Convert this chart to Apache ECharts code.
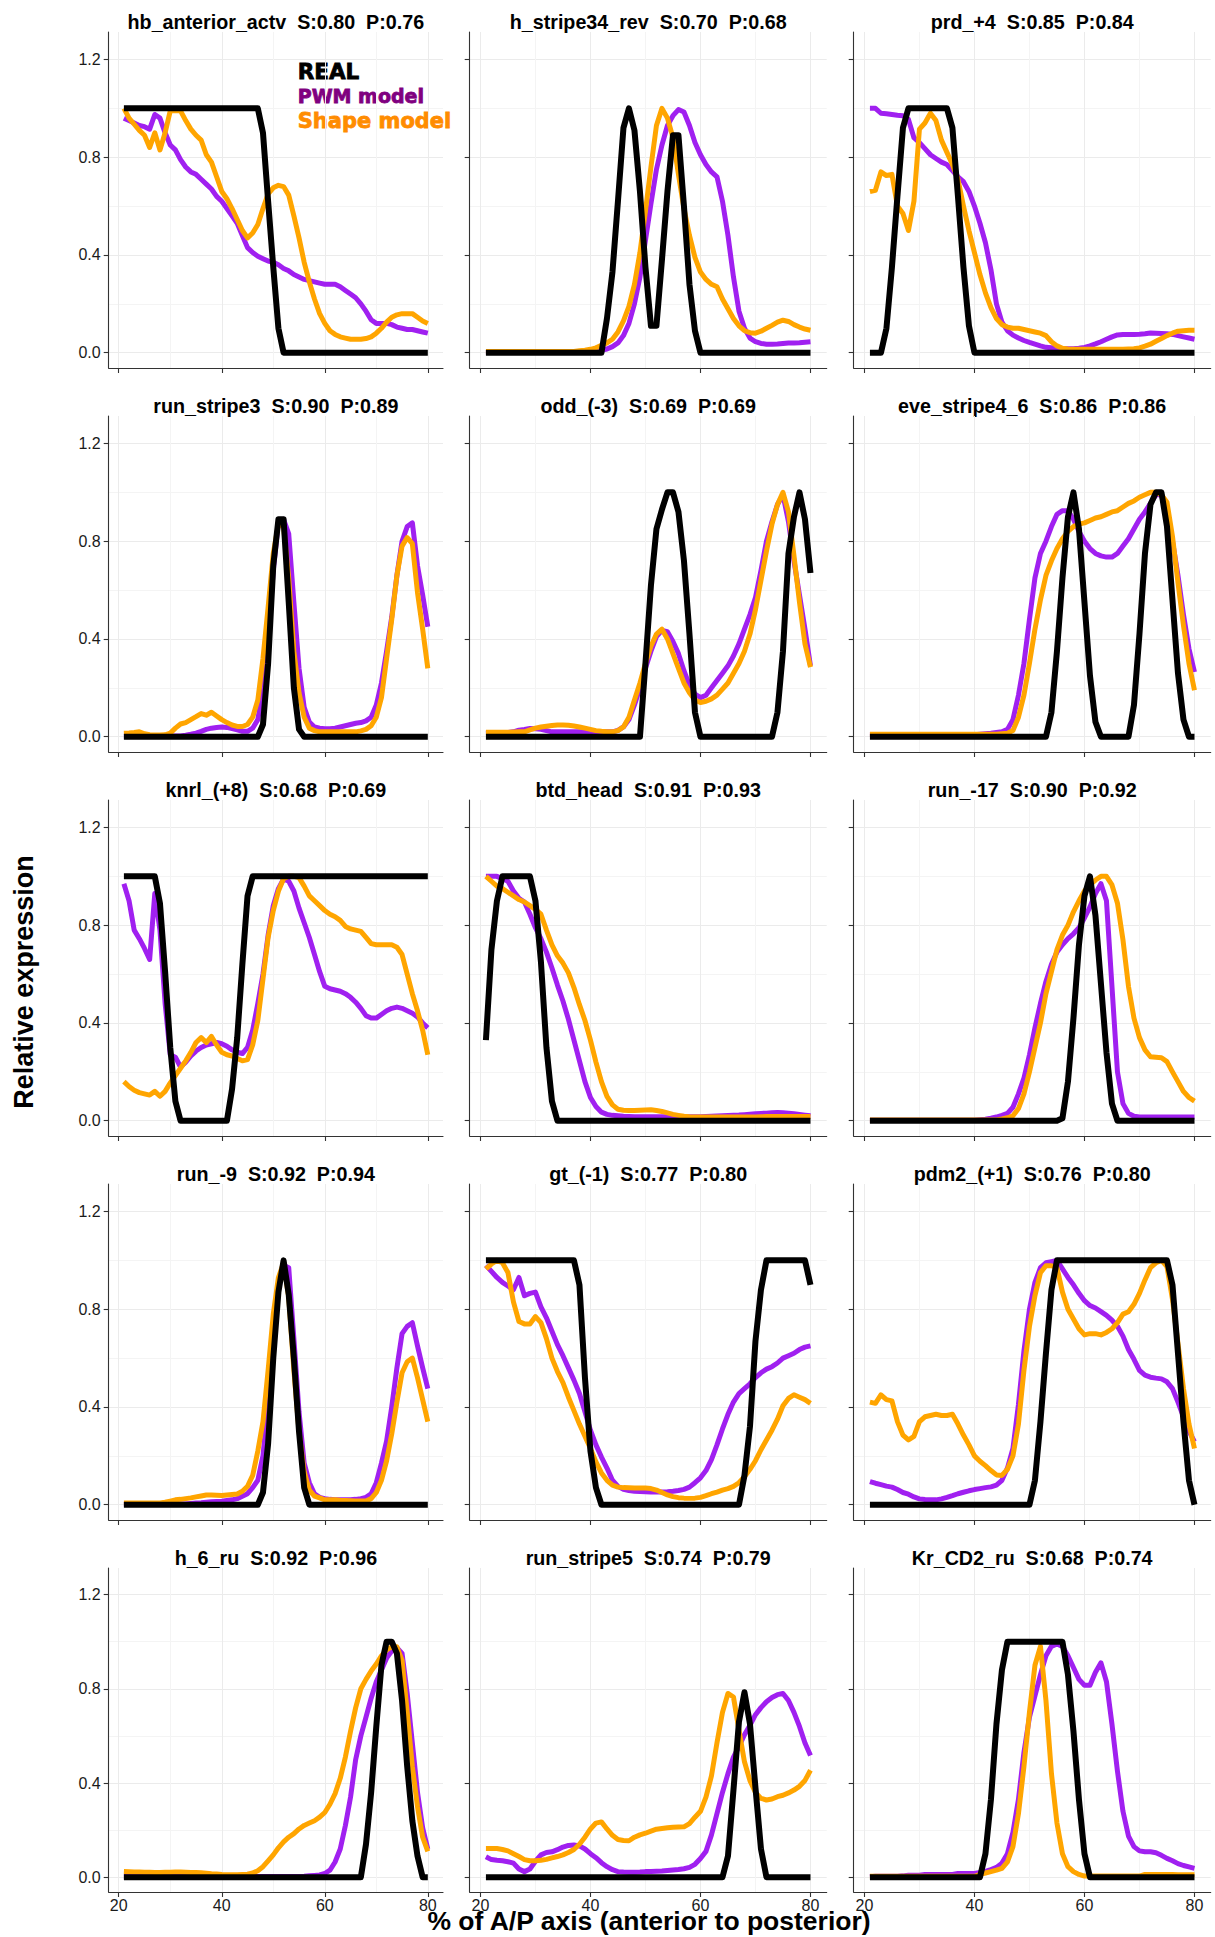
<!DOCTYPE html>
<html><head><meta charset="utf-8">
<script src="https://cdn.jsdelivr.net/npm/echarts@6.0.0/dist/echarts.min.js"></script>
<style>html,body{margin:0;padding:0;background:#fff}#chart{width:1215px;height:1937px}#chart svg text{white-space:pre}</style>
</head><body><div id="chart"></div>
<script>
// ---------------- data ----------------
const xs = [21,22,23,24,25,26,27,28,29,30, 31,32,33,34,35,36,37,38,39,40, 41,42,43,44,45,46,47,48,49,50, 51,52,53,54,55,56,57,58,59,60, 61,62,63,64,65,66,67,68,69,70, 71,72,73,74,75,76,77,78,79,80];
const xTicks = [20, 40, 60, 80];
const xMinorTicks = [30, 50, 70];
const yTicks = [0, 0.4, 0.8, 1.2];
const yMinorTicks = [0.2, 0.6, 1.0];
const titles = ['hb_anterior_actv  S:0.80  P:0.76','h_stripe34_rev  S:0.70  P:0.68','prd_+4  S:0.85  P:0.84',
  'run_stripe3  S:0.90  P:0.89','odd_(-3)  S:0.69  P:0.69','eve_stripe4_6  S:0.86  P:0.86',
  'knrl_(+8)  S:0.68  P:0.69','btd_head  S:0.91  P:0.93','run_-17  S:0.90  P:0.92',
  'run_-9  S:0.92  P:0.94','gt_(-1)  S:0.77  P:0.80','pdm2_(+1)  S:0.76  P:0.80',
  'h_6_ru  S:0.92  P:0.96','run_stripe5  S:0.74  P:0.79','Kr_CD2_ru  S:0.68  P:0.74'];
const legendLabels = ['REAL', 'PWM model', 'Shape model'];
const xTitle = '% of A/P axis (anterior to posterior)';
const yTitle = 'Relative expression';

const hb_real = [1,1,1,1,1,1,1,1,1,1, 1,1,1,1,1,1,1,1,1,1, 1,1,1,1,1,1,1,0.9,0.62,0.35, 0.1,0,0,0,0,0,0,0,0,0, 0,0,0,0,0,0,0,0,0,0, 0,0,0,0,0,0,0,0,0,0];
const hb_pwm = [0.96,0.95,0.94,0.93,0.925,0.915,0.975,0.96,0.9,0.85, 0.83,0.79,0.76,0.74,0.73,0.71,0.69,0.67,0.64,0.62, 0.59,0.56,0.53,0.48,0.43,0.41,0.395,0.385,0.375,0.37, 0.36,0.345,0.335,0.32,0.31,0.3,0.295,0.29,0.285,0.28, 0.28,0.28,0.27,0.255,0.24,0.225,0.2,0.17,0.135,0.12, 0.12,0.12,0.115,0.105,0.1,0.095,0.095,0.09,0.085,0.08];
const hb_shape = [1,0.96,0.935,0.91,0.89,0.84,0.9,0.83,0.9,0.99, 0.99,0.99,0.95,0.915,0.89,0.87,0.81,0.78,0.72,0.66, 0.63,0.59,0.545,0.5,0.47,0.49,0.525,0.59,0.65,0.675, 0.685,0.68,0.645,0.56,0.47,0.37,0.29,0.22,0.16,0.12, 0.09,0.075,0.065,0.06,0.055,0.055,0.055,0.058,0.065,0.08, 0.1,0.125,0.145,0.155,0.16,0.16,0.16,0.145,0.13,0.12];

const h34_real = [0,0,0,0,0,0,0,0,0,0, 0,0,0,0,0,0,0,0,0,0, 0,0,0.14,0.33,0.62,0.92,1,0.91,0.66,0.35, 0.11,0.11,0.38,0.66,0.89,0.89,0.6,0.28,0.09,0, 0,0,0,0,0,0,0,0,0,0, 0,0,0,0,0,0,0,0,0,0];
const h34_pwm = [0.002,0.002,0.002,0.002,0.002,0.002,0.002,0.002,0.002,0.002, 0.003,0.003,0.003,0.003,0.003,0.004,0.004,0.004,0.005,0.005, 0.005,0.01,0.015,0.025,0.04,0.07,0.12,0.2,0.31,0.46, 0.61,0.75,0.85,0.93,0.97,0.995,0.985,0.93,0.86,0.81, 0.77,0.74,0.72,0.62,0.48,0.31,0.17,0.1,0.06,0.045, 0.038,0.035,0.035,0.036,0.038,0.04,0.04,0.041,0.043,0.045];
const h34_shape = [0.005,0.005,0.005,0.005,0.005,0.005,0.005,0.005,0.005,0.005, 0.005,0.005,0.005,0.005,0.005,0.005,0.005,0.008,0.01,0.014, 0.02,0.03,0.04,0.055,0.085,0.13,0.19,0.28,0.41,0.58, 0.76,0.93,1,0.96,0.88,0.73,0.59,0.48,0.39,0.33, 0.3,0.28,0.27,0.22,0.18,0.14,0.11,0.09,0.082,0.08, 0.088,0.1,0.112,0.125,0.133,0.128,0.115,0.105,0.097,0.092];

const prd_real = [0,0,0,0.1,0.35,0.64,0.92,1,1,1, 1,1,1,1,1,0.92,0.64,0.35,0.11,0, 0,0,0,0,0,0,0,0,0,0, 0,0,0,0,0,0,0,0,0,0, 0,0,0,0,0,0,0,0,0,0, 0,0,0,0,0,0,0,0,0,0];
const prd_pwm = [1,1,0.98,0.978,0.975,0.972,0.97,0.955,0.88,0.86, 0.835,0.81,0.795,0.78,0.77,0.745,0.72,0.7,0.66,0.6, 0.53,0.45,0.34,0.2,0.125,0.09,0.072,0.06,0.05,0.042, 0.035,0.028,0.022,0.02,0.018,0.017,0.016,0.016,0.018,0.022, 0.028,0.036,0.045,0.055,0.065,0.073,0.075,0.075,0.075,0.076, 0.078,0.081,0.08,0.079,0.078,0.075,0.07,0.065,0.06,0.055];
const prd_shape = [0.66,0.665,0.74,0.725,0.73,0.6,0.57,0.5,0.62,0.915, 0.94,0.98,0.95,0.87,0.82,0.77,0.71,0.6,0.5,0.41, 0.32,0.245,0.185,0.14,0.115,0.105,0.1,0.1,0.095,0.09, 0.085,0.08,0.07,0.045,0.028,0.018,0.015,0.014,0.014,0.014, 0.014,0.014,0.014,0.014,0.014,0.014,0.014,0.015,0.016,0.02, 0.027,0.035,0.047,0.058,0.07,0.08,0.088,0.09,0.092,0.092];

const rs3_real = [0,0,0,0,0,0,0,0,0,0, 0,0,0,0,0,0,0,0,0,0, 0,0,0,0,0,0,0,0.05,0.3,0.7, 0.89,0.89,0.55,0.2,0.03,0,0,0,0,0, 0,0,0,0,0,0,0,0,0,0, 0,0,0,0,0,0,0,0,0,0];
const rs3_pwm = [0.003,0.003,0.003,0.003,0.003,0.003,0.003,0.003,0.003,0.003, 0.003,0.003,0.006,0.01,0.015,0.022,0.03,0.035,0.038,0.04, 0.038,0.033,0.028,0.022,0.022,0.035,0.07,0.2,0.4,0.68, 0.88,0.89,0.83,0.55,0.28,0.12,0.06,0.04,0.035,0.033, 0.033,0.035,0.04,0.045,0.05,0.055,0.058,0.065,0.08,0.13, 0.22,0.35,0.49,0.66,0.8,0.86,0.875,0.7,0.58,0.45];
const rs3_shape = [0.014,0.015,0.017,0.02,0.012,0.008,0.007,0.007,0.008,0.015, 0.035,0.052,0.058,0.07,0.082,0.095,0.088,0.1,0.085,0.07, 0.058,0.048,0.042,0.042,0.05,0.08,0.15,0.32,0.53,0.75, 0.87,0.86,0.65,0.35,0.18,0.08,0.035,0.025,0.02,0.02, 0.02,0.02,0.02,0.02,0.02,0.02,0.024,0.03,0.045,0.08, 0.16,0.32,0.48,0.66,0.78,0.815,0.79,0.59,0.44,0.28];

const odd_real = [0,0,0,0,0,0,0,0,0,0, 0,0,0,0,0,0,0,0,0,0, 0,0,0,0,0,0,0,0,0,0.3, 0.62,0.85,0.93,1,1,0.92,0.72,0.42,0.1,0, 0,0,0,0,0,0,0,0,0,0, 0,0,0,0.1,0.35,0.75,0.9,1,0.89,0.67];
const odd_pwm = [0.014,0.015,0.015,0.016,0.017,0.02,0.027,0.03,0.034,0.033, 0.03,0.025,0.02,0.02,0.02,0.02,0.02,0.02,0.02,0.02, 0.02,0.02,0.02,0.02,0.026,0.04,0.07,0.13,0.2,0.28, 0.35,0.41,0.435,0.43,0.39,0.34,0.27,0.21,0.175,0.16, 0.17,0.2,0.23,0.26,0.29,0.33,0.38,0.44,0.5,0.57, 0.68,0.8,0.88,0.95,0.99,0.88,0.72,0.58,0.44,0.29];
const odd_shape = [0.018,0.018,0.018,0.018,0.018,0.019,0.02,0.02,0.028,0.035, 0.04,0.043,0.046,0.048,0.048,0.047,0.044,0.04,0.035,0.03, 0.025,0.022,0.02,0.02,0.025,0.04,0.08,0.15,0.22,0.3, 0.37,0.42,0.44,0.4,0.34,0.28,0.22,0.18,0.15,0.14, 0.145,0.155,0.17,0.195,0.22,0.26,0.3,0.35,0.42,0.52, 0.64,0.76,0.87,0.95,1,0.92,0.74,0.55,0.38,0.285];

const eve_real = [0,0,0,0,0,0,0,0,0,0, 0,0,0,0,0,0,0,0,0,0, 0,0,0,0,0,0,0,0,0,0, 0,0,0,0.1,0.35,0.65,0.9,1,0.85,0.55, 0.25,0.06,0,0,0,0,0,0,0.13,0.42, 0.75,0.95,1,1,0.86,0.56,0.26,0.07,0,0];
const eve_pwm = [0.008,0.008,0.008,0.008,0.008,0.008,0.008,0.008,0.008,0.008, 0.008,0.008,0.008,0.008,0.008,0.008,0.008,0.008,0.008,0.008, 0.01,0.012,0.014,0.017,0.02,0.03,0.07,0.17,0.3,0.48, 0.65,0.75,0.8,0.86,0.91,0.925,0.925,0.89,0.84,0.8, 0.77,0.75,0.74,0.735,0.735,0.75,0.78,0.81,0.85,0.89, 0.92,0.955,0.99,0.99,0.9,0.8,0.66,0.5,0.36,0.265];
const eve_shape = [0.01,0.01,0.01,0.01,0.01,0.01,0.01,0.01,0.01,0.01, 0.01,0.01,0.01,0.01,0.01,0.01,0.01,0.01,0.01,0.01, 0.01,0.01,0.01,0.01,0.012,0.014,0.025,0.08,0.17,0.3, 0.44,0.56,0.66,0.72,0.77,0.81,0.84,0.86,0.87,0.875, 0.885,0.895,0.9,0.91,0.92,0.925,0.94,0.955,0.965,0.98, 0.99,1,1,0.99,0.96,0.82,0.63,0.455,0.3,0.19];

const knrl_real = [1,1,1,1,1,1,1,0.89,0.61,0.3, 0.08,0,0,0,0,0,0,0,0,0, 0,0.13,0.34,0.64,0.92,1,1,1,1,1, 1,1,1,1,1,1,1,1,1,1, 1,1,1,1,1,1,1,1,1,1, 1,1,1,1,1,1,1,1,1,1];
const knrl_pwm = [0.97,0.9,0.78,0.745,0.705,0.66,0.93,0.78,0.48,0.27, 0.26,0.22,0.24,0.265,0.285,0.3,0.31,0.315,0.32,0.315, 0.305,0.29,0.28,0.275,0.3,0.37,0.48,0.6,0.76,0.88, 0.95,0.99,0.98,0.94,0.87,0.81,0.75,0.68,0.61,0.55, 0.54,0.535,0.53,0.52,0.505,0.485,0.46,0.43,0.42,0.42, 0.435,0.45,0.46,0.465,0.46,0.45,0.44,0.425,0.4,0.38];
const knrl_shape = [0.16,0.14,0.125,0.115,0.11,0.105,0.12,0.1,0.12,0.155, 0.185,0.215,0.245,0.28,0.32,0.34,0.32,0.345,0.31,0.28, 0.27,0.265,0.255,0.245,0.25,0.31,0.41,0.58,0.75,0.86, 0.94,0.99,1,1,0.995,0.96,0.92,0.9,0.88,0.86, 0.845,0.835,0.82,0.795,0.785,0.78,0.775,0.75,0.725,0.72, 0.72,0.72,0.72,0.71,0.68,0.6,0.52,0.45,0.37,0.27];

const btd_real = [0.33,0.7,0.9,1,1,1,1,1,1,0.9, 0.65,0.3,0.08,0,0,0,0,0,0,0, 0,0,0,0,0,0,0,0,0,0, 0,0,0,0,0,0,0,0,0,0, 0,0,0,0,0,0,0,0,0,0, 0,0,0,0,0,0,0,0,0,0];
const btd_pwm = [1,1,1,0.99,0.98,0.94,0.91,0.895,0.845,0.79, 0.745,0.69,0.625,0.555,0.49,0.415,0.33,0.245,0.16,0.095, 0.058,0.035,0.026,0.022,0.02,0.018,0.017,0.016,0.016,0.016, 0.016,0.016,0.016,0.016,0.016,0.016,0.016,0.016,0.016,0.016, 0.017,0.018,0.019,0.02,0.021,0.022,0.023,0.025,0.027,0.029, 0.03,0.031,0.033,0.034,0.033,0.031,0.029,0.026,0.023,0.02];
const btd_shape = [1,0.98,0.96,0.95,0.935,0.92,0.905,0.895,0.88,0.865, 0.845,0.78,0.72,0.675,0.645,0.605,0.545,0.475,0.41,0.33, 0.24,0.16,0.1,0.065,0.047,0.043,0.042,0.042,0.043,0.044, 0.045,0.042,0.038,0.032,0.026,0.022,0.018,0.016,0.015,0.015, 0.015,0.015,0.015,0.015,0.015,0.015,0.015,0.015,0.015,0.015, 0.016,0.017,0.017,0.017,0.017,0.017,0.017,0.017,0.017,0.017];

const r17_real = [0,0,0,0,0,0,0,0,0,0, 0,0,0,0,0,0,0,0,0,0, 0,0,0,0,0,0,0,0,0,0, 0,0,0,0,0,0.01,0.16,0.42,0.72,0.92, 1,0.84,0.56,0.28,0.07,0,0,0,0,0, 0,0,0,0,0,0,0,0,0,0];
const r17_pwm = [0.002,0.002,0.002,0.002,0.002,0.002,0.002,0.002,0.002,0.002, 0.002,0.002,0.002,0.002,0.002,0.002,0.002,0.002,0.002,0.002, 0.004,0.006,0.01,0.015,0.022,0.03,0.055,0.11,0.175,0.27, 0.38,0.48,0.57,0.64,0.69,0.72,0.745,0.765,0.79,0.83, 0.875,0.93,0.97,0.9,0.55,0.2,0.07,0.03,0.018,0.015, 0.015,0.015,0.015,0.015,0.015,0.015,0.015,0.015,0.015,0.015];
const r17_shape = [0.003,0.003,0.003,0.003,0.003,0.003,0.003,0.003,0.003,0.003, 0.003,0.003,0.003,0.003,0.003,0.003,0.003,0.003,0.003,0.003, 0.003,0.003,0.003,0.003,0.007,0.012,0.02,0.05,0.11,0.2, 0.3,0.4,0.52,0.61,0.7,0.76,0.8,0.855,0.9,0.94, 0.965,0.985,1,1,0.965,0.89,0.74,0.55,0.42,0.34, 0.29,0.262,0.26,0.258,0.242,0.2,0.16,0.12,0.095,0.08];

const r9_real = [0,0,0,0,0,0,0,0,0,0, 0,0,0,0,0,0,0,0,0,0, 0,0,0,0,0,0,0,0.05,0.25,0.6, 0.87,1,0.86,0.6,0.3,0.07,0,0,0,0, 0,0,0,0,0,0,0,0,0,0, 0,0,0,0,0,0,0,0,0,0];
const r9_pwm = [0.003,0.003,0.003,0.003,0.003,0.003,0.003,0.003,0.003,0.003, 0.003,0.003,0.003,0.005,0.007,0.008,0.01,0.012,0.013,0.014, 0.017,0.02,0.025,0.035,0.045,0.07,0.1,0.2,0.42,0.65, 0.88,0.98,0.97,0.68,0.38,0.17,0.09,0.045,0.03,0.025, 0.022,0.02,0.02,0.02,0.02,0.022,0.025,0.03,0.045,0.09, 0.17,0.26,0.4,0.56,0.7,0.73,0.745,0.65,0.56,0.475];
const r9_shape = [0.007,0.007,0.007,0.007,0.007,0.007,0.007,0.007,0.01,0.015, 0.02,0.022,0.025,0.028,0.032,0.036,0.04,0.04,0.039,0.038, 0.04,0.042,0.044,0.055,0.075,0.12,0.22,0.34,0.55,0.78, 0.93,0.99,0.85,0.55,0.3,0.135,0.06,0.035,0.028,0.02, 0.02,0.02,0.018,0.017,0.016,0.015,0.015,0.015,0.025,0.05, 0.1,0.18,0.29,0.42,0.54,0.585,0.6,0.52,0.43,0.34];

const gt_real = [1,1,1,1,1,1,1,1,1,1, 1,1,1,1,1,1,1,0.9,0.52,0.22, 0.07,0,0,0,0,0,0,0,0,0, 0,0,0,0,0,0,0,0,0,0, 0,0,0,0,0,0,0,0.12,0.32,0.67, 0.88,1,1,1,1,1,1,1,1,0.9];
const gt_pwm = [0.98,0.955,0.93,0.91,0.895,0.88,0.93,0.855,0.865,0.87, 0.81,0.765,0.71,0.655,0.61,0.56,0.51,0.455,0.38,0.305, 0.245,0.195,0.15,0.1,0.075,0.063,0.058,0.055,0.054,0.053, 0.052,0.052,0.052,0.053,0.055,0.058,0.063,0.072,0.09,0.11, 0.14,0.185,0.245,0.31,0.37,0.42,0.455,0.475,0.495,0.52, 0.54,0.555,0.565,0.58,0.6,0.61,0.62,0.635,0.645,0.65];
const gt_shape = [0.965,0.985,1,0.99,0.95,0.83,0.75,0.74,0.74,0.77, 0.745,0.68,0.6,0.545,0.5,0.44,0.385,0.33,0.28,0.23, 0.175,0.13,0.1,0.08,0.072,0.07,0.069,0.068,0.068,0.068, 0.066,0.06,0.05,0.04,0.033,0.029,0.027,0.026,0.027,0.03, 0.037,0.045,0.052,0.06,0.066,0.075,0.09,0.115,0.145,0.18, 0.225,0.265,0.305,0.35,0.405,0.435,0.45,0.44,0.43,0.415];

const pdm_real = [0,0,0,0,0,0,0,0,0,0, 0,0,0,0,0,0,0,0,0,0, 0,0,0,0,0,0,0,0,0,0, 0.1,0.34,0.62,0.88,1,1,1,1,1,1, 1,1,1,1,1,1,1,1,1,1, 1,1,1,1,1,0.9,0.62,0.34,0.1,0];
const pdm_pwm = [0.095,0.088,0.082,0.076,0.072,0.062,0.05,0.043,0.032,0.024, 0.021,0.02,0.02,0.024,0.03,0.037,0.045,0.051,0.057,0.062, 0.066,0.07,0.073,0.08,0.1,0.15,0.23,0.41,0.63,0.8, 0.91,0.97,0.99,0.995,1,0.965,0.93,0.9,0.865,0.835, 0.815,0.805,0.79,0.775,0.755,0.73,0.69,0.635,0.595,0.55, 0.53,0.522,0.518,0.515,0.503,0.475,0.42,0.36,0.3,0.258];
const pdm_shape = [0.42,0.415,0.45,0.43,0.425,0.34,0.285,0.265,0.28,0.34, 0.36,0.365,0.37,0.365,0.365,0.37,0.33,0.285,0.245,0.2, 0.178,0.16,0.14,0.122,0.12,0.145,0.2,0.33,0.55,0.73, 0.856,0.95,0.978,0.978,0.97,0.87,0.8,0.76,0.72,0.695, 0.7,0.7,0.695,0.705,0.72,0.745,0.78,0.79,0.82,0.865, 0.92,0.97,0.99,1,0.975,0.84,0.66,0.475,0.33,0.23];

const h6_real = [0,0,0,0,0,0,0,0,0,0, 0,0,0,0,0,0,0,0,0,0, 0,0,0,0,0,0,0,0,0,0, 0,0,0,0,0,0,0,0,0,0, 0,0,0,0,0,0,0,0.14,0.36,0.64, 0.9,1,1,0.95,0.75,0.47,0.24,0.09,0,0];
const h6_pwm = [0.003,0.003,0.003,0.003,0.003,0.003,0.003,0.003,0.003,0.003, 0.003,0.003,0.003,0.003,0.003,0.003,0.003,0.003,0.003,0.003, 0.003,0.003,0.003,0.003,0.003,0.003,0.003,0.003,0.003,0.003, 0.003,0.003,0.003,0.003,0.003,0.004,0.006,0.008,0.01,0.016, 0.03,0.065,0.12,0.22,0.34,0.5,0.6,0.68,0.76,0.83, 0.88,0.93,0.96,0.975,0.95,0.78,0.57,0.36,0.21,0.12];
const h6_shape = [0.024,0.023,0.022,0.022,0.021,0.021,0.02,0.02,0.021,0.021, 0.022,0.022,0.021,0.02,0.02,0.019,0.017,0.015,0.014,0.012, 0.011,0.011,0.011,0.012,0.013,0.018,0.028,0.045,0.07,0.095, 0.125,0.15,0.17,0.185,0.205,0.22,0.23,0.24,0.255,0.275, 0.31,0.355,0.42,0.51,0.62,0.72,0.8,0.84,0.875,0.905, 0.94,0.965,0.978,0.978,0.92,0.7,0.47,0.3,0.17,0.11];

const rs5_real = [0,0,0,0,0,0,0,0,0,0, 0,0,0,0,0,0,0,0,0,0, 0,0,0,0,0,0,0,0,0,0, 0,0,0,0,0,0,0,0,0,0, 0,0,0,0,0.09,0.37,0.66,0.785,0.65,0.38, 0.12,0,0,0,0,0,0,0,0,0];
const rs5_pwm = [0.087,0.075,0.072,0.07,0.066,0.06,0.035,0.024,0.035,0.068, 0.095,0.105,0.108,0.117,0.128,0.135,0.137,0.133,0.12,0.1, 0.083,0.062,0.045,0.032,0.024,0.022,0.021,0.021,0.022,0.024, 0.025,0.026,0.027,0.029,0.031,0.033,0.036,0.042,0.055,0.08, 0.11,0.18,0.27,0.36,0.44,0.51,0.555,0.605,0.645,0.69, 0.72,0.745,0.763,0.775,0.78,0.75,0.7,0.64,0.57,0.517];
const rs5_shape = [0.122,0.122,0.122,0.118,0.112,0.1,0.088,0.075,0.07,0.07, 0.072,0.076,0.082,0.088,0.095,0.105,0.118,0.14,0.17,0.205, 0.23,0.235,0.205,0.178,0.16,0.156,0.155,0.17,0.18,0.187, 0.196,0.204,0.207,0.21,0.212,0.213,0.214,0.228,0.255,0.28, 0.34,0.43,0.57,0.7,0.78,0.765,0.625,0.49,0.41,0.36, 0.335,0.328,0.332,0.342,0.348,0.358,0.37,0.386,0.411,0.454];

const kr_real = [0,0,0,0,0,0,0,0,0,0, 0,0,0,0,0,0,0,0,0,0, 0,0.1,0.33,0.65,0.88,1,1,1,1,1, 1,1,1,1,1,1,0.86,0.62,0.33,0.1, 0,0,0,0,0,0,0,0,0,0, 0,0,0,0,0,0,0,0,0,0];
const kr_pwm = [0.002,0.004,0.004,0.004,0.004,0.004,0.006,0.009,0.009,0.009, 0.012,0.012,0.012,0.012,0.012,0.012,0.016,0.016,0.016,0.016, 0.02,0.025,0.033,0.042,0.06,0.1,0.19,0.33,0.53,0.68, 0.77,0.86,0.94,0.98,0.99,0.98,0.94,0.89,0.84,0.815, 0.815,0.87,0.91,0.83,0.65,0.45,0.28,0.175,0.13,0.112, 0.108,0.108,0.104,0.093,0.08,0.07,0.058,0.05,0.044,0.038];
const kr_shape = [0.004,0.004,0.004,0.004,0.004,0.004,0.004,0.004,0.004,0.004, 0.004,0.004,0.004,0.004,0.004,0.004,0.004,0.004,0.004,0.004, 0.012,0.018,0.024,0.03,0.038,0.065,0.13,0.27,0.47,0.7, 0.9,0.98,0.75,0.44,0.23,0.1,0.045,0.024,0.012,0.005, 0.005,0.005,0.005,0.005,0.005,0.005,0.005,0.005,0.005,0.005, 0.012,0.012,0.012,0.012,0.012,0.012,0.011,0.011,0.011,0.011];

const realList  = [hb_real, h34_real, prd_real, rs3_real, odd_real, eve_real, knrl_real, btd_real, r17_real, r9_real, gt_real, pdm_real, h6_real, rs5_real, kr_real];
const pwmList   = [hb_pwm, h34_pwm, prd_pwm, rs3_pwm, odd_pwm, eve_pwm, knrl_pwm, btd_pwm, r17_pwm, r9_pwm, gt_pwm, pdm_pwm, h6_pwm, rs5_pwm, kr_pwm];
const shapeList = [hb_shape, h34_shape, prd_shape, rs3_shape, odd_shape, eve_shape, knrl_shape, btd_shape, r17_shape, r9_shape, gt_shape, pdm_shape, h6_shape, rs5_shape, kr_shape];

// ---------------- layout / style ----------------
const FONT = "'Liberation Sans', Arial, Helvetica, sans-serif";
const X_MIN = 18.05, X_MAX = 82.95, Y_MIN = -0.0625, Y_MAX = 1.3125;
const colLeft = [108.7, 469.7, 853.7], colWidth = [334.3, 357, 357];
const rowTop = [32, 416, 800, 1184, 1568], rowHeight = [336, 336, 336, 336, 324];
const COL_REAL = '#000000', COL_PWM = '#a020f0', COL_SHAPE = '#ffa500';
const AXIS_COL = '#333333';

const grids = [], xAxes = [], yAxes = [], series = [], graphics = [];
const toPairs = arr => xs.map((x, k) => [x, arr[k]]);

titles.forEach((t, i) => {
  const r = Math.floor(i / 3), c = i % 3;
  grids.push({ left: colLeft[c], top: rowTop[r], width: colWidth[c], height: rowHeight[r],
    containLabel: false, outerBoundsMode: 'none', show: false });
  xAxes.push({ gridIndex: i, type: 'value', position: 'bottom', min: X_MIN, max: X_MAX,
    axisLine: { show: true, onZero: false, lineStyle: { color: AXIS_COL, width: 1.1 } },
    axisTick: { show: true, inside: false, length: 5, customValues: xTicks, lineStyle: { color: AXIS_COL, width: 1.1 } },
    axisLabel: { show: r === 4, customValues: xTicks, margin: 5, fontSize: 16, color: '#1a1a1a', fontFamily: FONT, formatter: v => String(v) },
    splitLine: { show: true, lineStyle: { color: '#ebebeb', width: 1 } },
    minorTick: { show: false }, minorSplitLine: { show: false } });
  xAxes.push({ gridIndex: i, type: 'value', position: 'bottom', min: X_MIN, max: X_MAX,
    axisLine: { show: false, onZero: false }, axisTick: { show: false, customValues: xMinorTicks },
    axisLabel: { show: false }, splitLine: { show: true, lineStyle: { color: '#f4f4f4', width: 1 } } });
  yAxes.push({ gridIndex: i, type: 'value', position: 'left', min: Y_MIN, max: Y_MAX,
    axisLine: { show: true, onZero: false, lineStyle: { color: AXIS_COL, width: 1.1 } },
    axisTick: { show: true, inside: false, length: 5, customValues: yTicks, lineStyle: { color: AXIS_COL, width: 1.1 } },
    axisLabel: { show: c === 0, customValues: yTicks, margin: 8, fontSize: 16, color: '#1a1a1a', fontFamily: FONT, formatter: v => v.toFixed(1) },
    splitLine: { show: true, lineStyle: { color: '#ebebeb', width: 1 } },
    minorTick: { show: false }, minorSplitLine: { show: false } });
  yAxes.push({ gridIndex: i, type: 'value', position: 'left', min: Y_MIN, max: Y_MAX,
    axisLine: { show: false, onZero: false }, axisTick: { show: false, customValues: yMinorTicks },
    axisLabel: { show: false }, splitLine: { show: true, lineStyle: { color: '#f4f4f4', width: 1 } } });

  const mk = (name, arr, color, width, z) => ({
    name, type: 'line', xAxisIndex: 2 * i, yAxisIndex: 2 * i, data: toPairs(arr),
    showSymbol: false, symbol: 'none', silent: true, animation: false, z,
    lineStyle: { color, width, cap: 'butt', join: 'round' } });
  series.push(mk(legendLabels[1], pwmList[i], COL_PWM, 5, 3));
  series.push(mk(legendLabels[2], shapeList[i], COL_SHAPE, 5, 4));
  series.push(mk(legendLabels[0], realList[i], COL_REAL, 6, 5));

  graphics.push({ type: 'text', x: colLeft[c] + colWidth[c] / 2, y: rowTop[r] - 10.5, silent: true,
    style: { text: t, fill: '#000', fontSize: 19.7, fontWeight: 'bold', fontFamily: FONT, align: 'center', verticalAlign: 'middle' } });
});

// legend (text only, as in the reference)
const legCols = [COL_REAL, '#800080', '#ff8c00'];
const legY = [71, 96, 120.7];
const legSize = [21.5, 19, 21];
legendLabels.forEach((t, k) => {
  graphics.push({ type: 'text', x: 297.7, y: legY[k], silent: true,
    style: { text: t, fill: legCols[k], fontSize: legSize[k], fontWeight: 'bold', fontFamily: "'DejaVu Sans', Verdana, sans-serif",
      align: 'left', verticalAlign: 'middle', stroke: legCols[k], lineWidth: 0.8 } });
});
// axis titles
graphics.push({ type: 'text', x: 649, y: 1921, silent: true,
  style: { text: xTitle, fill: '#000', fontSize: 26.5, fontWeight: 'bold', fontFamily: FONT, align: 'center', verticalAlign: 'middle' } });
graphics.push({ type: 'text', x: 24, y: 982, rotation: Math.PI / 2, silent: true,
  style: { text: yTitle, fill: '#000', fontSize: 27, fontWeight: 'bold', fontFamily: FONT, align: 'center', verticalAlign: 'middle' } });

const chart = echarts.init(document.getElementById('chart'), null, { renderer: 'svg', width: 1215, height: 1937 });
chart.setOption({
  backgroundColor: '#ffffff', animation: false,
  grid: grids, xAxis: xAxes, yAxis: yAxes, series, graphic: graphics,
  tooltip: { show: false }, legend: { show: false }
});
</script></body></html>
